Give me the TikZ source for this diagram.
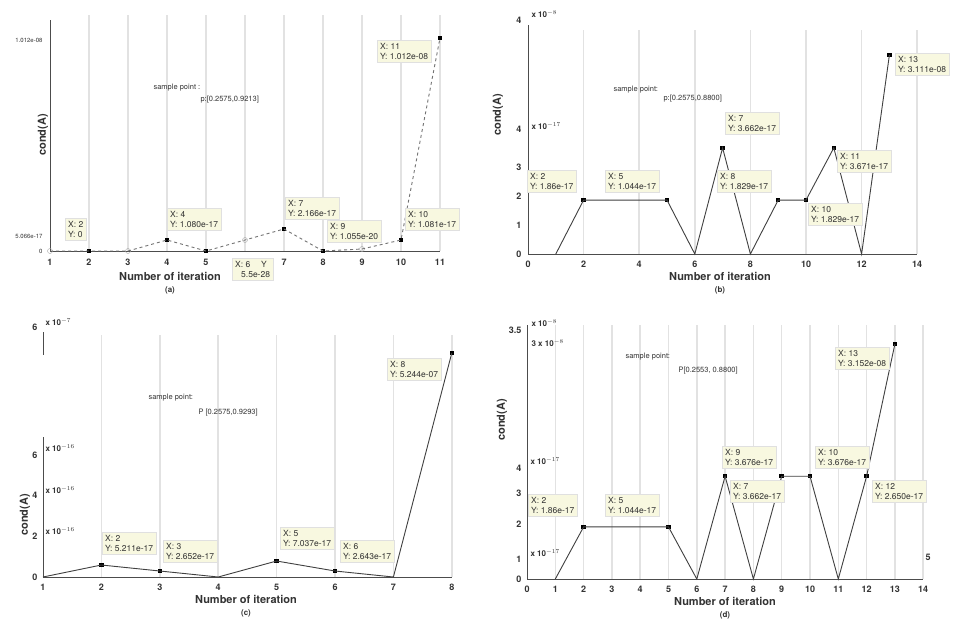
\documentclass[tikz,border=0pt]{standalone}
\usepackage{fontspec}
\setmainfont{TeX Gyre Heros}
\definecolor{tipfill}{RGB}{248,248,224}
\definecolor{gridgray}{RGB}{226,226,226}
\def\tipfont{\fontsize{8.5}{10}\selectfont}
% panel origins (x of iteration 0, y of value 0) and steps
\def\oxA{11}   \def\sxA{39}   \def\oyA{251}
\def\oxB{528}  \def\sxB{27.8} \def\oyB{254} \def\syB{29}
\def\oxC{-15.4}\def\sxC{58.4} \def\oyC{577}
\def\oxD{527}  \def\sxD{28.3} \def\oyD{579} \def\syD{28}

\begin{document}
\begin{tikzpicture}[
    x={(1pt,0)}, y={(0,-1pt)},
    gridline/.style={draw=gridgray, line width=1.5pt},
    axisline/.style={draw=black!70, line width=1pt},
    plotline/.style={draw=black!75, line width=0.9pt},
    dashline/.style={draw=black!55, line width=0.9pt, dashed},
    mk/.style={fill=black, minimum size=4.5pt, inner sep=0pt},
    hmk/.style={draw=black!35, circle, minimum size=5pt, inner sep=0pt},
    datatip/.style={fill=tipfill, draw=black!12, anchor=north west,
      align=left, inner sep=3pt, font=\tipfont, text=black!80},
    ticklab/.style={font=\bfseries\fontsize{9}{10}\selectfont, text=black!80},
    ylab/.style={ticklab, anchor=east},
    expo/.style={font=\bfseries\fontsize{8}{9}\selectfont, anchor=west, text=black!80},
    axtitle/.style={font=\bfseries\fontsize{11}{12}\selectfont, text=black!80},
    subcap/.style={font=\bfseries\fontsize{8}{9}\selectfont, text=black!80},
    samplenote/.style={font=\fontsize{7.5}{9}\selectfont, anchor=west, text=black!80}
  ]
    \useasboundingbox[fill=white] (0,0) rectangle (954,630);

    % ---------------- (a) ----------------
    \draw[gridline]
      (\oxA+2*\sxA,15) -- (\oxA+2*\sxA,\oyA)
      (\oxA+3*\sxA,15) -- (\oxA+3*\sxA,\oyA)
      (\oxA+4*\sxA,15) -- (\oxA+4*\sxA,\oyA)
      (\oxA+5*\sxA,15) -- (\oxA+5*\sxA,\oyA)
      (\oxA+6*\sxA,15) -- (\oxA+6*\sxA,\oyA)
      (\oxA+7*\sxA,15) -- (\oxA+7*\sxA,\oyA)
      (\oxA+8*\sxA,15) -- (\oxA+8*\sxA,\oyA)
      (\oxA+9*\sxA,15) -- (\oxA+9*\sxA,\oyA)
      (\oxA+10*\sxA,15) -- (\oxA+10*\sxA,\oyA)
      (\oxA+11*\sxA,15) -- (\oxA+11*\sxA,\oyA);
    \draw[axisline] (\oxA+1*\sxA,20) -- (\oxA+1*\sxA,\oyA) -- (\oxA+11*\sxA,\oyA);

    \node[hmk] (pA1) at (\oxA+1*\sxA,\oyA) {};
    \node[mk]  (pA2) at (\oxA+2*\sxA,\oyA) {};
    \node[hmk] (pA3) at (\oxA+3*\sxA,\oyA) {};
    \node[mk]  (pA4) at (\oxA+4*\sxA,\oyA-11) {};
    \node[mk]  (pA5) at (\oxA+5*\sxA,\oyA) {};
    \node[hmk] (pA6) at (\oxA+6*\sxA,\oyA-11) {};
    \node[mk]  (pA7) at (\oxA+7*\sxA,\oyA-22) {};
    \node[mk]  (pA8) at (\oxA+8*\sxA,\oyA) {};
    \node[hmk] (pA9) at (\oxA+9*\sxA,\oyA-2) {};
    \node[mk]  (pA10) at (\oxA+10*\sxA,\oyA-11) {};
    \node[mk]  (pA11) at (\oxA+11*\sxA,38) {};
    \draw[dashline] (pA1.center) -- (pA2.center) -- (pA3.center) -- (pA4.center)
      -- (pA5.center) -- (pA6.center) -- (pA7.center) -- (pA8.center)
      -- (pA9.center) -- (pA10.center) -- (pA11.center);

    \node[datatip] (tipA2) at (65,218) {X: 2\\Y: 0};
    \node[datatip] (tipA4) at (167,208) {X: 4\\Y: 1.080e-17};
    \node[datatip] (tipA6) at (232,258) {X: 6 \quad Y\\\hspace*{6pt}5.5e-28};
    \node[datatip] (tipA7) at (285,197) {X: 7\\Y: 2.166e-17};
    \node[datatip] (tipA9) at (327,220) {X: 9\\Y: 1.055e-20};
    \node[datatip] (tipA10) at (405,208) {X: 10\\Y: 1.081e-17};
    \node[datatip] (tipA11) at (377,40) {X: 11\\Y: 1.012e-08};

    \node[ticklab] (xa1) at (\oxA+1*\sxA,\oyA+11) {1};
    \node[ticklab] (xa2) at (\oxA+2*\sxA,\oyA+11) {2};
    \node[ticklab] (xa3) at (\oxA+3*\sxA,\oyA+11) {3};
    \node[ticklab] (xa4) at (\oxA+4*\sxA,\oyA+11) {4};
    \node[ticklab] (xa5) at (\oxA+5*\sxA,\oyA+11) {5};
    \node[ticklab] (xa7) at (\oxA+7*\sxA,\oyA+11) {7};
    \node[ticklab] (xa8) at (\oxA+8*\sxA,\oyA+11) {8};
    \node[ticklab] (xa9) at (\oxA+9*\sxA,\oyA+11) {9};
    \node[ticklab] (xa10) at (\oxA+10*\sxA,\oyA+11) {10};
    \node[ticklab] (xa11) at (\oxA+11*\sxA,\oyA+11) {11};
    \node[ylab, font=\fontsize{6}{7}\selectfont] (ya0) at (\oxA+\sxA-4,\oyA) {0};
    \node[ylab, font=\fontsize{6}{7}\selectfont] (ya1) at (\oxA+\sxA-4,236) {5.066e-17};
    \node[ylab, font=\fontsize{6}{7}\selectfont] (ya2) at (\oxA+\sxA-4,40) {1.012e-08};

    \node[samplenote] (sA1) at (150,88) {sample point :};
    \node[samplenote] (sA2) at (197,100) {p:[0.2575,0.9213]};
    \node[axtitle, rotate=90] (yta) at (43,135) {cond(A)};
    \node[axtitle] (xta) at (170,276) {Number of iteration};
    \node[subcap] (capa) at (170,290) {(a)};

    % ---------------- (b) ----------------
    \draw[gridline]
      (\oxB+2*\sxB,30) -- (\oxB+2*\sxB,\oyB)
      (\oxB+4*\sxB,30) -- (\oxB+4*\sxB,\oyB)
      (\oxB+6*\sxB,30) -- (\oxB+6*\sxB,\oyB)
      (\oxB+8*\sxB,30) -- (\oxB+8*\sxB,\oyB)
      (\oxB+10*\sxB,30) -- (\oxB+10*\sxB,\oyB)
      (\oxB+12*\sxB,30) -- (\oxB+12*\sxB,\oyB)
      (\oxB+14*\sxB,30) -- (\oxB+14*\sxB,\oyB);
    \draw[axisline] (\oxB,25) -- (\oxB,\oyB) -- (\oxB+14*\sxB,\oyB);

    \coordinate (pB1) at (\oxB+1*\sxB,\oyB);
    \node[mk] (pB2) at (\oxB+2*\sxB,\oyB-1.86*\syB) {};
    \node[mk] (pB5) at (\oxB+5*\sxB,\oyB-1.86*\syB) {};
    \coordinate (pB6) at (\oxB+6*\sxB,\oyB);
    \node[mk] (pB7) at (\oxB+7*\sxB,\oyB-3.66*\syB) {};
    \coordinate (pB8) at (\oxB+8*\sxB,\oyB);
    \node[mk] (pB9) at (\oxB+9*\sxB,\oyB-1.86*\syB) {};
    \node[mk] (pB10) at (\oxB+10*\sxB,\oyB-1.86*\syB) {};
    \node[mk] (pB11) at (\oxB+11*\sxB,\oyB-3.66*\syB) {};
    \coordinate (pB12) at (\oxB+12*\sxB,\oyB);
    \node[mk] (pB13) at (\oxB+13*\sxB,55) {};
    \draw[plotline] (pB1) -- (pB2.center) -- (pB5.center) -- (pB6) -- (pB7.center)
      -- (pB8) -- (pB9.center) -- (pB10.center) -- (pB11.center) -- (pB12)
      -- (pB13.center);

    \node[datatip] (tipB2) at (527,170) {X: 2\\Y: 1.86e-17};
    \node[datatip] (tipB5) at (605,170) {X: 5\\Y: 1.044e-17};
    \node[datatip] (tipB7) at (725,112) {X: 7\\Y: 3.662e-17};
    \node[datatip] (tipB8) at (717,170) {X: 8\\Y: 1.829e-17};
    \node[datatip] (tipB10) at (808,203) {X: 10\\Y: 1.829e-17};
    \node[datatip] (tipB11) at (837,150) {X: 11\\Y: 3.671e-17};
    \node[datatip] (tipB13) at (895,53) {X: 13\\Y: 3.111e-08};

    \node[ticklab] (xb0) at (\oxB,\oyB+10) {0};
    \node[ticklab] (xb2) at (\oxB+2*\sxB,\oyB+10) {2};
    \node[ticklab] (xb4) at (\oxB+4*\sxB,\oyB+10) {4};
    \node[ticklab] (xb6) at (\oxB+6*\sxB,\oyB+10) {6};
    \node[ticklab] (xb8) at (\oxB+8*\sxB,\oyB+10) {8};
    \node[ticklab] (xb10) at (\oxB+10*\sxB,\oyB+10) {10};
    \node[ticklab] (xb12) at (\oxB+12*\sxB,\oyB+10) {12};
    \node[ticklab] (xb14) at (\oxB+14*\sxB,\oyB+10) {14};
    \node[ylab] (yb0) at (\oxB-3,\oyB) {0};
    \node[ylab] (yb1) at (\oxB-3,\oyB-1*\syB) {1};
    \node[ylab] (yb2) at (\oxB-3,\oyB-2*\syB) {2};
    \node[ylab] (yb3) at (\oxB-3,\oyB-3*\syB) {3};
    \node[ylab] (yb4) at (\oxB-3,129) {4};
    \node[expo] (eb4) at (\oxB,126) {x 10$^{-17}$};
    \node[ylab] (yb5) at (\oxB-3,20) {4};
    \node[expo] (eb5) at (\oxB,14) {x 10$^{-8}$};

    \node[samplenote] (sB1) at (610,90) {sample point:};
    \node[samplenote] (sB2) at (660,99) {p:[0.2575,0.8800]};
    \node[axtitle, rotate=90] (ytb) at (498,115) {cond(A)};
    \node[axtitle] (xtb) at (720,276) {Number of iteration};
    \node[subcap] (capb) at (720,290) {(b)};

    % ---------------- (c) ----------------
    \draw[gridline]
      (\oxC+2*\sxC,335) -- (\oxC+2*\sxC,\oyC)
      (\oxC+3*\sxC,335) -- (\oxC+3*\sxC,\oyC)
      (\oxC+4*\sxC,335) -- (\oxC+4*\sxC,\oyC)
      (\oxC+5*\sxC,335) -- (\oxC+5*\sxC,\oyC)
      (\oxC+6*\sxC,335) -- (\oxC+6*\sxC,\oyC)
      (\oxC+7*\sxC,335) -- (\oxC+7*\sxC,\oyC)
      (\oxC+8*\sxC,335) -- (\oxC+8*\sxC,\oyC);
    \draw[axisline] (\oxC+1*\sxC,332) -- (\oxC+1*\sxC,355);
    \draw[axisline] (\oxC+1*\sxC,437) -- (\oxC+1*\sxC,\oyC) -- (\oxC+8*\sxC,\oyC);

    \coordinate (pC1) at (\oxC+1*\sxC,\oyC);
    \node[mk] (pC2) at (\oxC+2*\sxC,\oyC-12) {};
    \node[mk] (pC3) at (\oxC+3*\sxC,\oyC-6) {};
    \coordinate (pC4) at (\oxC+4*\sxC,\oyC);
    \node[mk] (pC5) at (\oxC+5*\sxC,\oyC-16) {};
    \node[mk] (pC6) at (\oxC+6*\sxC,\oyC-6) {};
    \coordinate (pC7) at (\oxC+7*\sxC,\oyC);
    \node[mk] (pC8) at (\oxC+8*\sxC,353) {};
    \draw[plotline] (pC1) -- (pC2.center) -- (pC3.center) -- (pC4) -- (pC5.center)
      -- (pC6.center) -- (pC7) -- (pC8.center);

    \node[datatip] (tipC2) at (102,532) {X: 2\\Y: 5.211e-17};
    \node[datatip] (tipC3) at (163,540) {X: 3\\Y: 2.652e-17};
    \node[datatip] (tipC5) at (280,527) {X: 5\\Y: 7.037e-17};
    \node[datatip] (tipC6) at (340,540) {X: 6\\Y: 2.643e-17};
    \node[datatip] (tipC8) at (387,358) {X: 8\\Y: 5.244e-07};

    \node[ticklab] (xc1) at (\oxC+1*\sxC,\oyC+10) {1};
    \node[ticklab] (xc2) at (\oxC+2*\sxC,\oyC+10) {2};
    \node[ticklab] (xc3) at (\oxC+3*\sxC,\oyC+10) {3};
    \node[ticklab] (xc4) at (\oxC+4*\sxC,\oyC+10) {4};
    \node[ticklab] (xc5) at (\oxC+5*\sxC,\oyC+10) {5};
    \node[ticklab] (xc6) at (\oxC+6*\sxC,\oyC+10) {6};
    \node[ticklab] (xc7) at (\oxC+7*\sxC,\oyC+10) {7};
    \node[ticklab] (xc8) at (\oxC+8*\sxC,\oyC+10) {8};
    \node[ylab] (yc0) at (41,\oyC) {0};
    \node[ylab] (yc1) at (41,536) {2};
    \node[expo] (ec1) at (42,531) {x 10$^{-16}$};
    \node[ylab] (yc2) at (41,495) {4};
    \node[expo] (ec2) at (42,490) {x 10$^{-16}$};
    \node[ylab] (yc3) at (41,455) {6};
    \node[expo] (ec3) at (42,448) {x 10$^{-16}$};
    \node[ylab] (yc4) at (41,327) {6};
    \node[expo] (ec4) at (42,322) {x 10$^{-7}$};

    \node[samplenote] (sC1) at (145,398) {sample point:};
    \node[samplenote] (sC2) at (195,413) {P [0.2575,0.9293]};
    \node[axtitle, rotate=90] (ytc) at (25,515) {cond(A)};
    \node[axtitle] (xtc) at (246,599) {Number of iteration};
    \node[subcap] (capc) at (246,613) {(c)};

    % ---------------- (d) ----------------
    \draw[gridline]
      (\oxD+1*\sxD,325) -- (\oxD+1*\sxD,\oyD)
      (\oxD+2*\sxD,325) -- (\oxD+2*\sxD,\oyD)
      (\oxD+3*\sxD,325) -- (\oxD+3*\sxD,\oyD)
      (\oxD+4*\sxD,325) -- (\oxD+4*\sxD,\oyD)
      (\oxD+5*\sxD,325) -- (\oxD+5*\sxD,\oyD)
      (\oxD+6*\sxD,325) -- (\oxD+6*\sxD,\oyD)
      (\oxD+7*\sxD,325) -- (\oxD+7*\sxD,\oyD)
      (\oxD+8*\sxD,325) -- (\oxD+8*\sxD,\oyD)
      (\oxD+9*\sxD,325) -- (\oxD+9*\sxD,\oyD)
      (\oxD+10*\sxD,325) -- (\oxD+10*\sxD,\oyD)
      (\oxD+11*\sxD,325) -- (\oxD+11*\sxD,\oyD)
      (\oxD+12*\sxD,325) -- (\oxD+12*\sxD,\oyD)
      (\oxD+13*\sxD,325) -- (\oxD+13*\sxD,\oyD)
      (\oxD+14*\sxD,325) -- (\oxD+14*\sxD,\oyD);
    \draw[axisline] (\oxD,325) -- (\oxD,\oyD) -- (\oxD+14*\sxD,\oyD);

    \coordinate (pD1) at (\oxD+1*\sxD,\oyD);
    \node[mk] (pD2) at (\oxD+2*\sxD,\oyD-1.86*\syD) {};
    \node[mk] (pD5) at (\oxD+5*\sxD,\oyD-1.86*\syD) {};
    \coordinate (pD6) at (\oxD+6*\sxD,\oyD);
    \node[mk] (pD7) at (\oxD+7*\sxD,\oyD-3.67*\syD) {};
    \coordinate (pD8) at (\oxD+8*\sxD,\oyD);
    \node[mk] (pD9) at (\oxD+9*\sxD,\oyD-3.67*\syD) {};
    \node[mk] (pD10) at (\oxD+10*\sxD,\oyD-3.67*\syD) {};
    \coordinate (pD11) at (\oxD+11*\sxD,\oyD);
    \node[mk] (pD12) at (\oxD+12*\sxD,\oyD-3.67*\syD) {};
    \node[mk] (pD13) at (\oxD+13*\sxD,344) {};
    \draw[plotline] (pD1) -- (pD2.center) -- (pD5.center) -- (pD6) -- (pD7.center)
      -- (pD8) -- (pD9.center) -- (pD10.center) -- (pD11) -- (pD12.center)
      -- (pD13.center);

    \node[datatip] (tipD2) at (528,494) {X: 2\\Y: 1.86e-17};
    \node[datatip] (tipD5) at (605,494) {X: 5\\Y: 1.044e-17};
    \node[datatip] (tipD9) at (722,446) {X: 9\\Y: 3.676e-17};
    \node[datatip] (tipD7) at (730,480) {X: 7\\Y: 3.662e-17};
    \node[datatip] (tipD10) at (815,446) {X: 10\\Y: 3.676e-17};
    \node[datatip] (tipD12) at (872,480) {X: 12\\Y: 2.650e-17};
    \node[datatip] (tipD13) at (835,347) {X: 13\\Y: 3.152e-08};

    \node[ticklab] (xd0) at (\oxD,\oyD+10) {0};
    \node[ticklab] (xd1) at (\oxD+1*\sxD,\oyD+10) {1};
    \node[ticklab] (xd2) at (\oxD+2*\sxD,\oyD+10) {2};
    \node[ticklab] (xd3) at (\oxD+3*\sxD,\oyD+10) {3};
    \node[ticklab] (xd4) at (\oxD+4*\sxD,\oyD+10) {4};
    \node[ticklab] (xd5) at (\oxD+5*\sxD,\oyD+10) {5};
    \node[ticklab] (xd6) at (\oxD+6*\sxD,\oyD+10) {6};
    \node[ticklab] (xd7) at (\oxD+7*\sxD,\oyD+10) {7};
    \node[ticklab] (xd8) at (\oxD+8*\sxD,\oyD+10) {8};
    \node[ticklab] (xd9) at (\oxD+9*\sxD,\oyD+10) {9};
    \node[ticklab] (xd10) at (\oxD+10*\sxD,\oyD+10) {10};
    \node[ticklab] (xd11) at (\oxD+11*\sxD,\oyD+10) {11};
    \node[ticklab] (xd12) at (\oxD+12*\sxD,\oyD+10) {12};
    \node[ticklab] (xd13) at (\oxD+13*\sxD,\oyD+10) {13};
    \node[ticklab] (xd14) at (\oxD+14*\sxD,\oyD+10) {14};
    \node[ylab] (yd0) at (\oxD-2,\oyD) {0};
    \node[ylab] (yd1) at (\oxD-2,559) {1};
    \node[expo] (ed1) at (\oxD,553) {x 10$^{-17}$};
    \node[ylab] (yd2) at (\oxD-2,524) {2};
    \node[ylab] (yd3) at (\oxD-2,493) {3};
    \node[ylab] (yd4) at (\oxD-2,468) {4};
    \node[expo] (ed4) at (\oxD,461) {x 10$^{-17}$};
    \node[expo] (ed5) at (\oxD+1,343) {3 x 10$^{-8}$};
    \node[ylab] (yd6) at (\oxD-2,330) {3.5};
    \node[expo] (ed6) at (\oxD+1,323) {x 10$^{-8}$};
    \node[ticklab] (strayd) at (928,557) {5};

    \node[samplenote] (sD1) at (622,357) {sample point:};
    \node[samplenote] (sD2) at (675,371) {P[0.2553, 0.8800]};
    \node[axtitle, rotate=90] (ytd) at (502,420) {cond(A)};
    \node[axtitle] (xtd) at (725,601) {Number of iteration};
    \node[subcap] (capd) at (725,615) {(d)};
\end{tikzpicture}
\end{document}
